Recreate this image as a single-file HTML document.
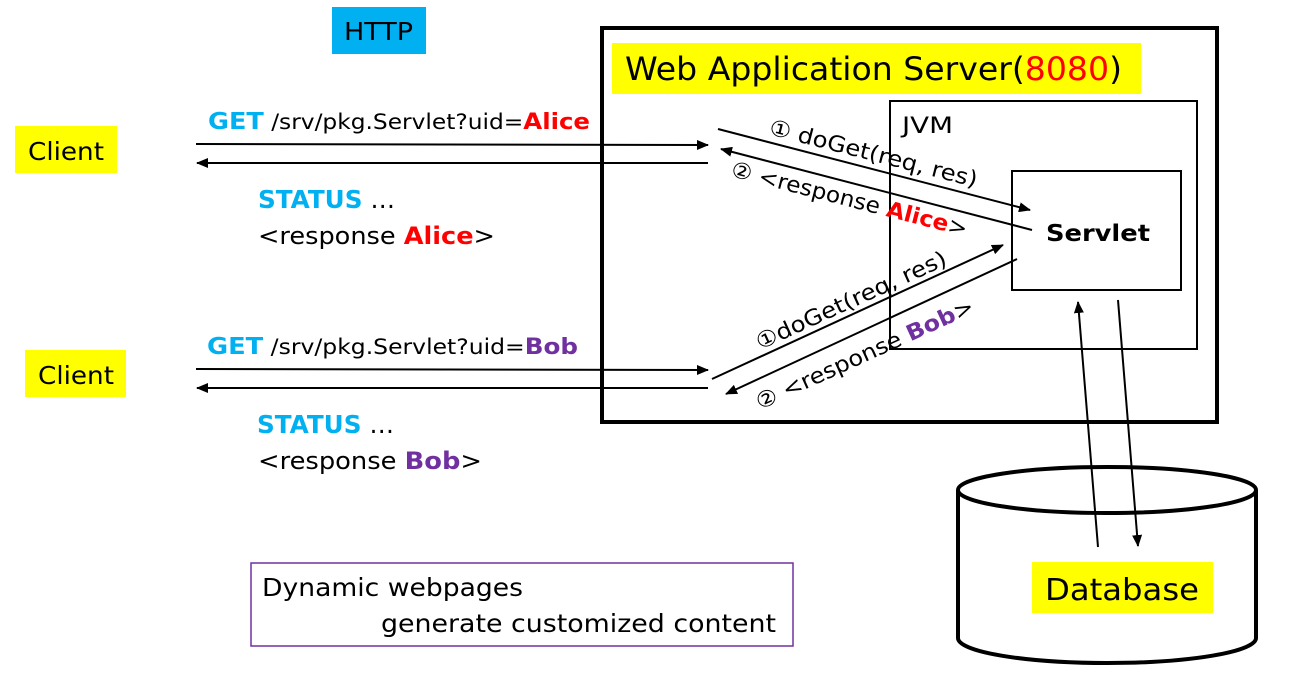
<!DOCTYPE html>
<html><head><meta charset="utf-8"><style>
html,body{margin:0;padding:0;background:#fff;}
svg{display:block;font-family:"DejaVu Sans","Liberation Sans",sans-serif;}
</style></head><body>
<svg width="1290" height="682" viewBox="0 0 1290 682" xmlns="http://www.w3.org/2000/svg">
<defs>
<marker id="ah" markerWidth="12" markerHeight="10" refX="11" refY="5" orient="auto" markerUnits="userSpaceOnUse">
<path d="M0,0 L12,5 L0,10 z" fill="#000"/></marker>
</defs>
<!-- HTTP -->
<rect x="332" y="7" width="94" height="47" fill="#00b0f0"/>
<text x="344" y="40" font-size="25" textLength="69" lengthAdjust="spacingAndGlyphs">HTTP</text>
<!-- Clients -->
<rect x="15" y="126" width="102" height="47" fill="#ffff00"/>
<text x="28" y="160" font-size="25" textLength="76" lengthAdjust="spacingAndGlyphs">Client</text>
<rect x="25" y="350" width="101" height="47" fill="#ffff00"/>
<text x="38" y="384" font-size="25" textLength="76" lengthAdjust="spacingAndGlyphs">Client</text>
<!-- Alice request -->
<text x="208" y="129" font-size="23" textLength="382" lengthAdjust="spacingAndGlyphs"><tspan font-weight="bold" fill="#00b0f0">GET</tspan><tspan font-size="21"> /srv/pkg.Servlet?uid=</tspan><tspan font-weight="bold" fill="#ff0000" font-size="22">Alice</tspan></text>
<line x1="196" y1="144" x2="708" y2="145" stroke="#000" stroke-width="2" marker-end="url(#ah)"/>
<line x1="708" y1="163" x2="197" y2="163" stroke="#000" stroke-width="2" marker-end="url(#ah)"/>
<text x="258" y="208" font-size="25" textLength="137" lengthAdjust="spacingAndGlyphs"><tspan font-weight="bold" fill="#00b0f0">STATUS</tspan> …</text>
<text x="258" y="244" font-size="24" textLength="237" lengthAdjust="spacingAndGlyphs">&lt;response <tspan font-weight="bold" fill="#ff0000">Alice</tspan>&gt;</text>
<!-- Bob request -->
<text x="207" y="354" font-size="23" textLength="371" lengthAdjust="spacingAndGlyphs"><tspan font-weight="bold" fill="#00b0f0">GET</tspan><tspan font-size="21"> /srv/pkg.Servlet?uid=</tspan><tspan font-weight="bold" fill="#7030a0" font-size="22">Bob</tspan></text>
<line x1="196" y1="369" x2="708" y2="370" stroke="#000" stroke-width="2" marker-end="url(#ah)"/>
<line x1="708" y1="388" x2="197" y2="388" stroke="#000" stroke-width="2" marker-end="url(#ah)"/>
<text x="257" y="433" font-size="25" textLength="137" lengthAdjust="spacingAndGlyphs"><tspan font-weight="bold" fill="#00b0f0">STATUS</tspan> …</text>
<text x="258" y="469" font-size="24" textLength="224" lengthAdjust="spacingAndGlyphs">&lt;response <tspan font-weight="bold" fill="#7030a0">Bob</tspan>&gt;</text>
<!-- WAS -->
<rect x="602" y="28" width="615" height="394" fill="none" stroke="#000" stroke-width="4"/>
<rect x="612" y="43" width="529" height="51" fill="#ffff00"/>
<text x="625" y="80" font-size="32" textLength="497" lengthAdjust="spacingAndGlyphs">Web Application Server(<tspan fill="#ff0000">8080</tspan>)</text>
<rect x="890" y="101" width="307" height="248" fill="none" stroke="#000" stroke-width="2"/>
<text x="902" y="133" font-size="22" textLength="51" lengthAdjust="spacingAndGlyphs">JVM</text>
<rect x="1012" y="171" width="169" height="119" fill="#fff" stroke="#000" stroke-width="2"/>
<text x="1046" y="241" font-size="23" font-weight="bold" textLength="104" lengthAdjust="spacingAndGlyphs">Servlet</text>
<!-- Alice lines -->
<line x1="718" y1="129" x2="1030" y2="210" stroke="#000" stroke-width="2" marker-end="url(#ah)"/>
<line x1="1032" y1="230" x2="721" y2="149" stroke="#000" stroke-width="2" marker-end="url(#ah)"/>
<text transform="translate(768,134) rotate(14.4)" font-size="22" textLength="214" lengthAdjust="spacingAndGlyphs">① doGet(req, res)</text>
<text transform="translate(730,176) rotate(14.4)" font-size="22" textLength="243" lengthAdjust="spacingAndGlyphs">②  &lt;response <tspan font-weight="bold" fill="#ff0000">Alice</tspan>&gt;</text>
<!-- Bob lines -->
<line x1="712" y1="379" x2="1003" y2="245" stroke="#000" stroke-width="2" marker-end="url(#ah)"/>
<line x1="1017" y1="259" x2="726" y2="394" stroke="#000" stroke-width="2" marker-end="url(#ah)"/>
<text transform="translate(760,350) rotate(-24.5)" font-size="22" textLength="207" lengthAdjust="spacingAndGlyphs">①doGet(req, res)</text>
<text transform="translate(760,410) rotate(-24.5)" font-size="22" textLength="237" lengthAdjust="spacingAndGlyphs">②  &lt;response <tspan font-weight="bold" fill="#7030a0">Bob</tspan>&gt;</text>
<!-- Database -->
<path d="M958,490 L958,638 A149,25 0 0 0 1256,638 L1256,490" fill="#fff" stroke="#000" stroke-width="4"/>
<ellipse cx="1107" cy="490" rx="149" ry="23" fill="#fff" stroke="#000" stroke-width="4"/>
<line x1="1098" y1="547" x2="1078" y2="302" stroke="#000" stroke-width="2" marker-end="url(#ah)"/>
<line x1="1118" y1="300" x2="1138" y2="546" stroke="#000" stroke-width="2" marker-end="url(#ah)"/>
<rect x="1032" y="562" width="181" height="51" fill="#ffff00"/>
<text x="1045" y="600" font-size="30" textLength="154" lengthAdjust="spacingAndGlyphs">Database</text>
<!-- Dynamic -->
<rect x="251" y="563" width="542" height="83" fill="none" stroke="#7030a0" stroke-width="1.5"/>
<text x="262" y="596" font-size="25" textLength="261" lengthAdjust="spacingAndGlyphs">Dynamic webpages</text>
<text x="381" y="632" font-size="25" textLength="395" lengthAdjust="spacingAndGlyphs">generate customized content</text>
</svg>
</body></html>
